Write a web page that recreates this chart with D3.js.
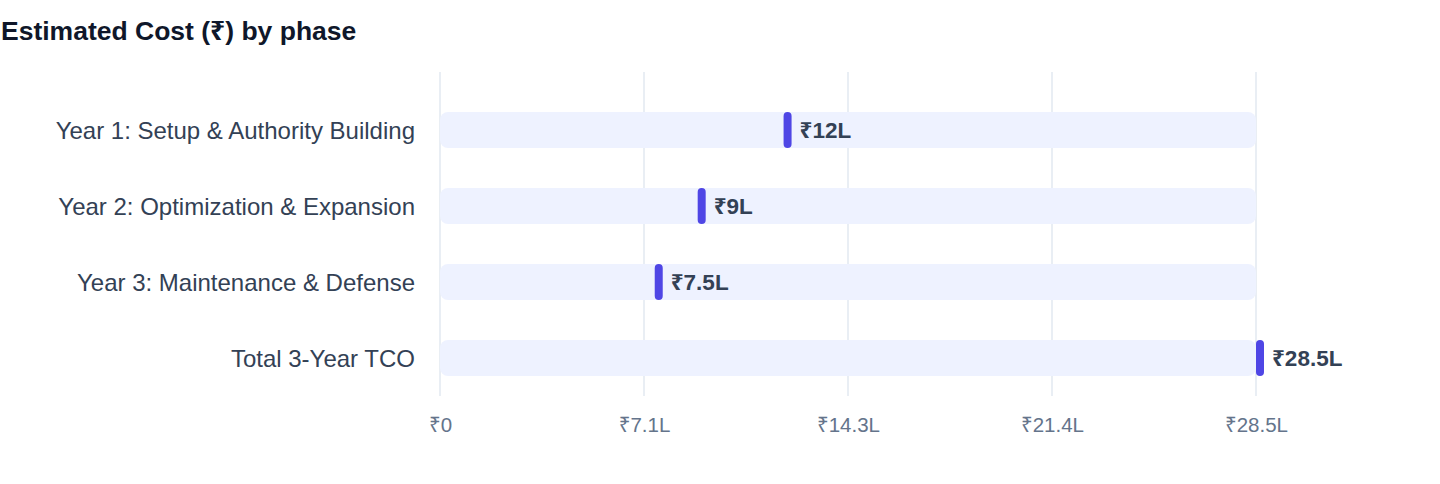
<!DOCTYPE html>
<html><head><meta charset="utf-8">
<script src="https://cdn.jsdelivr.net/npm/d3@7/dist/d3.min.js"></script>
<style>
html,body{margin:0;padding:0;background:#fff;}
svg{display:block;font-family:"Liberation Sans","Noto Sans",Arial,sans-serif;}
</style></head>
<body>
<svg id="chart" width="1440" height="484"></svg>
<script>
const categories = ["Year 1: Setup & Authority Building","Year 2: Optimization & Expansion","Year 3: Maintenance & Defense","Total 3-Year TCO"];
const values = [12, 9, 7.5, 28.5];
const valueLabels = ["₹12L","₹9L","₹7.5L","₹28.5L"];
const tickValues = [0, 7.125, 14.25, 21.375, 28.5];
const tickLabels = ["₹0","₹7.1L","₹14.3L","₹21.4L","₹28.5L"];
const title = "Estimated Cost (₹) by phase";

const svg = d3.select("#chart");
const x = d3.scaleLinear().domain([0, 28.5]).range([440, 1256]);
const y = d3.scaleBand().domain(categories).range([92, 396]).paddingInner(0.526).paddingOuter(0.263);

svg.append("text").attr("x", 1).attr("y", 39.5).attr("font-size", 26.5).attr("font-weight", 700)
  .attr("fill", "#0f172a").text(title);

// grid
svg.append("g").selectAll("line").data(tickValues).join("line")
  .attr("x1", d => x(d)).attr("x2", d => x(d)).attr("y1", 72).attr("y2", 396)
  .attr("stroke", "#e2e8f0").attr("stroke-width", 1.5);

// x axis labels
const xAxis = d3.axisBottom(x).tickValues(tickValues).tickFormat((d,i) => tickLabels[i]).tickSize(0).tickPadding(0);
const ga = svg.append("g").attr("transform", "translate(0,414)").call(xAxis);
ga.select(".domain").remove();
ga.selectAll("text").attr("font-size", 20.5).attr("fill", "#64748b").attr("dy", "0.9em")
  .style("font-family", "'Liberation Sans','Noto Sans',Arial,sans-serif");

// tracks
svg.append("g").selectAll("rect").data(categories).join("rect")
  .attr("x", x(0)).attr("y", d => y(d)).attr("width", x(28.5) - x(0)).attr("height", y.bandwidth())
  .attr("rx", 8).attr("fill", "#eef2ff");

// category labels
svg.append("g").selectAll("text").data(categories).join("text")
  .attr("x", 415).attr("y", d => y(d) + y.bandwidth()/2).attr("dy", "0.36em")
  .attr("text-anchor", "end").attr("font-size", 24).attr("fill", "#334155").text(d => d);

// markers
svg.append("g").selectAll("rect").data(values).join("rect")
  .attr("x", d => x(d)).attr("y", (d,i) => y(categories[i])).attr("width", 8).attr("height", y.bandwidth())
  .attr("rx", 4).attr("fill", "#4f46e5");

// value labels
svg.append("g").selectAll("text").data(values).join("text")
  .attr("x", d => x(d) + 16).attr("y", (d,i) => y(categories[i]) + y.bandwidth()/2).attr("dy", "0.36em")
  .attr("font-size", 22.5).attr("font-weight", 700).attr("fill", "#334155").text((d,i) => valueLabels[i]);
</script>
</body></html>
